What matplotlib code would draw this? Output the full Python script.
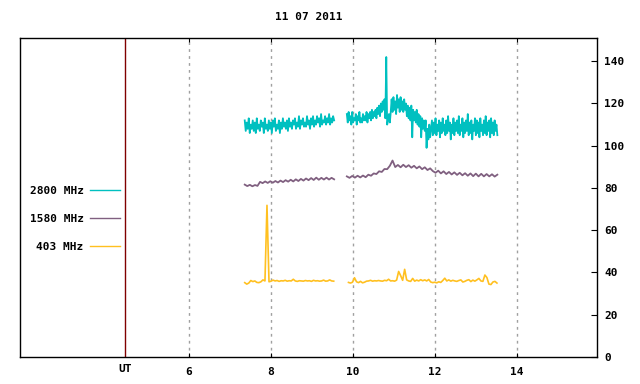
import numpy as np
import matplotlib
matplotlib.use("Agg")
import matplotlib.pyplot as plt

title = "11 07 2011"
labels = ["2800 MHz", "1580 MHz", "403 MHz"]
colors = ["#00c0c0", "#806080", "#ffc020"]

# observation windows (UT hours), two segments per frequency
seg_2800 = [(7.37, 9.55), (9.86, 13.53)]
seg_1580 = [(7.37, 9.55), (9.86, 13.53)]
seg_403 = [(7.37, 9.54), (9.90, 13.52)]

# 2800 MHz flux (sfu)
f2800_a = [112, 107, 111, 108, 113, 106, 110, 108, 112, 107, 111, 106, 113, 108, 110, 107, 112, 109, 111, 106,
           113, 108, 110, 107, 112, 108, 111, 106, 112, 109, 113, 107, 110, 108, 112, 106, 111, 108, 113, 109,
           111, 108, 112, 107, 113, 109, 111, 108, 112, 110, 113, 108, 111, 109, 114, 108, 112, 110, 113, 109,
           111, 109, 114, 110, 112, 108, 113, 110, 114, 109, 112, 110, 114, 111, 113, 109, 115, 110, 112, 111,
           114, 110, 113, 111, 115, 110, 113, 111, 114, 112]
f2800_b = [115, 111, 116, 112, 114, 110, 116, 111, 113, 112, 115, 110, 114, 112, 116, 111, 113, 111, 115, 112,
           114, 112, 116, 111, 115, 113, 116, 112, 117, 113, 116, 114, 117, 113, 118, 115, 119, 114, 120, 116, 121,
           117, 122, 113, 142, 110,
           112, 115, 111, 116,
           122, 116, 123, 117, 121, 115, 124, 118, 122, 116, 123, 117, 121, 116, 122, 117,
           120, 114, 119, 113, 118, 112, 119, 104, 117, 112, 116, 111, 117, 110, 115, 109, 114, 104, 113, 108, 112,
           107, 112, 99, 108, 103, 110, 104,
           108, 112, 105, 111, 106, 113, 105, 110, 107, 112, 104, 111, 106, 113, 107, 110, 105, 112, 106, 114,
           107, 111, 103, 110, 106, 113, 105, 111, 107, 112, 106, 114, 105, 110, 107, 113, 104, 111, 106, 112,
           107, 115, 105, 111, 106, 112, 103, 110, 107, 113, 105, 112, 106, 111, 104, 113, 107, 110, 105, 112,
           106, 114, 105, 111, 107, 112, 104, 113, 106, 111, 105, 112, 107, 110, 105]

# 1580 MHz flux
f1580_a = [81.6, 80.9, 81.5, 80.8, 81.4, 81.0, 82.9, 82.3, 83.1, 82.4, 83.2, 82.5, 83.3, 82.6, 83.5, 82.8,
           83.7, 83.0, 83.9, 83.1, 84.1, 83.3, 84.3, 83.5, 84.5, 83.7, 84.7, 83.8, 84.9, 83.9, 84.8, 84.0,
           84.9, 84.0, 84.8, 84.1]
f1580_b = [85.5, 84.8, 85.7, 84.9, 85.8, 85.0, 85.9, 85.1, 86.3, 85.8, 86.9, 86.6, 87.9, 87.6, 89.0, 88.9,
           90.5, 93.0, 89.9, 90.9, 89.8, 91.0, 89.9, 90.8, 89.6, 90.5, 89.3, 90.2, 88.9, 89.8, 88.5, 89.3,
           88.0, 87.2, 88.2, 86.9, 87.9, 86.6, 87.6, 86.4, 87.4, 86.2, 87.2, 86.0, 87.0, 85.8, 86.9, 85.6,
           86.8, 85.5, 86.7, 85.5, 86.6, 85.5, 86.5, 85.4, 86.3]

# 403 MHz flux
f403_a = [35.2, 34.5, 35.0, 36.2, 35.7, 36.0, 35.3, 35.2, 35.6, 36.5, 36.0, 71.8, 35.6, 35.9, 36.4,
          36.0, 36.2, 35.8, 36.1, 36.0, 36.3, 35.9, 36.1, 36.0, 36.8, 36.0, 35.8, 36.1, 36.0, 35.9,
          36.2, 36.0, 36.1, 35.8, 36.3, 36.0, 36.1, 35.9, 36.0, 36.4, 35.9, 36.0, 36.5, 36.0, 35.9]
f403_b = [35.3, 35.0, 35.4, 37.5, 35.6, 35.2, 35.8, 35.1, 35.4, 35.9, 36.0, 36.3, 35.9, 36.1, 36.0,
          36.2, 36.0, 35.9, 36.3, 36.1, 36.8, 36.0, 36.1, 35.9, 36.4, 40.5, 38.5, 36.3, 41.5, 36.5,
          36.0, 35.8, 37.2, 35.9, 36.4, 36.0, 36.6, 36.1, 36.5, 36.0, 36.7, 35.5, 35.2, 35.4, 35.1,
          35.6, 35.3, 36.2, 37.3, 36.0, 36.5, 35.9, 36.3, 36.0, 35.8, 36.2, 36.5, 35.5, 35.8, 36.3,
          36.6, 35.7, 36.4, 35.9, 36.5, 37.2, 36.0, 35.8, 38.8, 37.6, 34.5, 34.3, 35.5, 35.8, 35.0]

series = [
    (seg_2800, [f2800_a, f2800_b], 1.3),
    (seg_1580, [f1580_a, f1580_b], 1.3),
    (seg_403, [f403_a, f403_b], 1.2),
]

plt.rcParams["font.family"] = "DejaVu Sans Mono"
plt.rcParams["font.weight"] = "bold"

fig = plt.figure(figsize=(6.4, 3.84), dpi=100)
ax = fig.add_axes([20 / 640, 1 - 357 / 384, 577 / 640, 319 / 384])

for (segs, vals, lw), lab, col in zip(series, labels, colors):
    for i, ((t0, t1), v) in enumerate(zip(segs, vals)):
        t = np.linspace(t0, t1, len(v))
        ax.plot(t, v, color=col, lw=lw, label=lab if i == 0 else None)

ax.set_xlim(1.89, 15.96)
ax.set_ylim(0, 151)

# UT marker line
ax.axvline(4.45, color="#800000", lw=1)
ax.text(4.45, -3.5, "UT", ha="center", va="top", fontsize=8, fontweight="bold")

ax.set_xticks([6, 8, 10, 12, 14])
for x in [6, 8, 10, 12, 14]:
    ax.axvline(x, color="#a0a0a0", lw=1, ls=(0, (2, 3)), zorder=0)
ax.tick_params(axis="x", direction="in", length=3, top=True, labelsize=8, pad=7)

ax.yaxis.tick_right()
ax.set_yticks(range(0, 141, 20))
ax.tick_params(axis="y", direction="in", length=4, left=False, right=True, labelsize=8, pad=5)

for s in ax.spines.values():
    s.set_linewidth(1)

ax.set_title(title, fontsize=8, fontweight="bold", pad=13)

leg = ax.legend(loc="center right", bbox_to_anchor=(0.191, 0.433), frameon=False, markerfirst=False,
                fontsize=8, handlelength=2.7, labelspacing=1.6, handletextpad=0.6)
for h in leg.get_lines():
    h.set_linewidth(1)

fig.savefig("out.png", dpi=100)
